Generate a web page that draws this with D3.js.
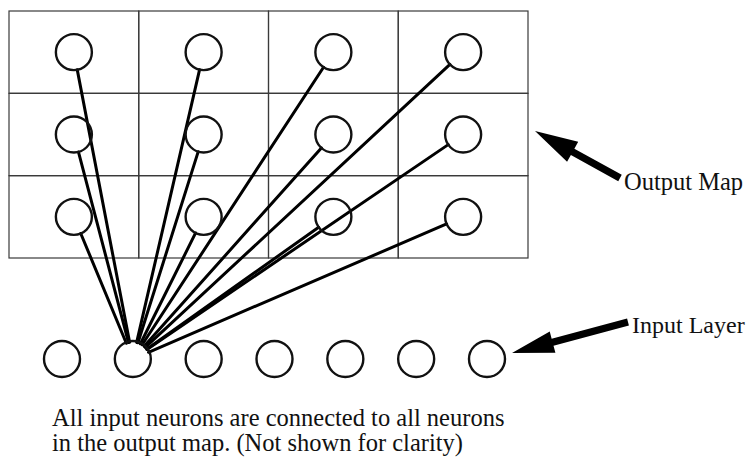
<!DOCTYPE html>
<html>
<head>
<meta charset="utf-8">
<script src="https://cdn.jsdelivr.net/npm/d3@7"></script>
<style>
  html, body { margin: 0; padding: 0; background: #fff; }
  svg { display: block; }
</style>
</head>
<body>
<svg id="chart" width="751" height="462"></svg>
<script>
// ---- data ----
const mapColumns = [0, 1, 2, 3];
const mapRows = [0, 1, 2];
const inputNeurons = [0, 1, 2, 3, 4, 5, 6];
const connectedInput = 1;           // the input neuron whose connections are drawn
const labels = {
  outputMap: "Output Map",
  inputLayer: "Input Layer",
  note: ["All input neurons are connected to all neurons",
         "in the output map. (Not shown for clarity)"]
};

// ---- layout ----
const FONT = "'Liberation Serif', 'Times New Roman', Times, 'DejaVu Serif', serif";
const svg = d3.select("#chart");
const R = 18;

const x = d3.scaleBand().domain(mapColumns).range([9, 528]).padding(0);
const y = d3.scaleBand().domain(mapRows).range([11, 258]).padding(0);
const xIn = d3.scalePoint().domain(inputNeurons).range([62, 487]);
const yIn = 359;

// grid cells
const cells = [];
mapRows.forEach(r => mapColumns.forEach(c => cells.push({r, c})));

svg.append("g").selectAll("rect").data(cells).join("rect")
  .attr("x", d => x(d.c)).attr("y", d => y(d.r))
  .attr("width", x.bandwidth()).attr("height", y.bandwidth())
  .attr("fill", "none").attr("stroke", "#3a3a3a").attr("stroke-width", 1.2);

// connection lines (edge to edge)
const src = {x: xIn(connectedInput), y: yIn};
const conns = cells.map(d => {
  const tx = x(d.c) + x.bandwidth() / 2, ty = y(d.r) + y.bandwidth() / 2;
  const dx = tx - src.x, dy = ty - src.y, L = Math.hypot(dx, dy);
  const ux = dx / L, uy = dy / L;
  return {x1: src.x + ux * (R - 1), y1: src.y + uy * (R - 1),
          x2: tx - ux * R, y2: ty - uy * R};
});
svg.append("g").selectAll("line").data(conns).join("line")
  .attr("x1", d => d.x1).attr("y1", d => d.y1)
  .attr("x2", d => d.x2).attr("y2", d => d.y2)
  .attr("stroke", "#000").attr("stroke-width", 3).attr("stroke-linecap", "round");

// output neurons
svg.append("g").selectAll("circle").data(cells).join("circle")
  .attr("cx", d => x(d.c) + x.bandwidth() / 2)
  .attr("cy", d => y(d.r) + y.bandwidth() / 2)
  .attr("r", R).attr("fill", "none").attr("stroke", "#111").attr("stroke-width", 2.4);

// input neurons
svg.append("g").selectAll("circle").data(inputNeurons).join("circle")
  .attr("cx", d => xIn(d)).attr("cy", yIn)
  .attr("r", R).attr("fill", "none").attr("stroke", "#111").attr("stroke-width", 2.4);

// arrows
function arrow(tail, tip, headLen, headHalf, shaftHalf) {
  const dx = tip[0] - tail[0], dy = tip[1] - tail[1], L = Math.hypot(dx, dy);
  const ux = dx / L, uy = dy / L, px = -uy, py = ux;
  const bx = tip[0] - ux * headLen, by = tip[1] - uy * headLen;
  const pts = [
    [tail[0] + px * shaftHalf, tail[1] + py * shaftHalf],
    [bx + px * shaftHalf, by + py * shaftHalf],
    [bx + px * headHalf, by + py * headHalf],
    tip,
    [bx - px * headHalf, by - py * headHalf],
    [bx - px * shaftHalf, by - py * shaftHalf],
    [tail[0] - px * shaftHalf, tail[1] - py * shaftHalf]
  ];
  svg.append("path").attr("d", d3.line()(pts) + "Z").attr("fill", "#000");
}
arrow([620, 178], [535, 131], 43, 11.5, 3.6);
arrow([628, 322], [512, 353], 42, 11, 3.6);

// labels
function label(xp, yp, txt, size) {
  return svg.append("text").attr("x", xp).attr("y", yp)
    .attr("font-family", FONT).attr("font-size", size).attr("fill", "#111").text(txt);
}
label(624, 190, labels.outputMap, 24.5);
label(632, 333, labels.inputLayer, 24);
label(52, 426, labels.note[0], 24.5);
label(52, 451, labels.note[1], 24.5);
</script>
</body>
</html>
